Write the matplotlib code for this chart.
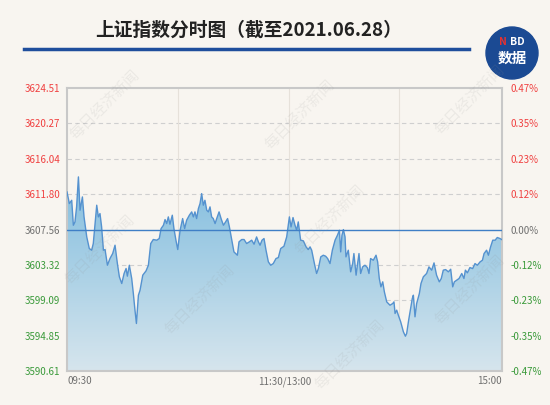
import numpy as np
import matplotlib
matplotlib.use('Agg')
import matplotlib.pyplot as plt
from matplotlib.colors import LinearSegmentedColormap
from matplotlib.patches import Circle

plt.rcParams['font.family'] = ['Noto Sans CJK SC', 'DejaVu Sans']

# minutes since 09:30 (lunch break removed) and index level
minutes = [0, 1.3, 2.6, 3.5, 4.4, 5.3, 6.3, 7.2, 8.5, 9.4, 10.9, 12.3, 13.6, 14.5,
           16.4, 17.3, 18.2, 19.1, 20.1, 21.0, 22.3, 23.7, 25.2, 26.5, 27.8, 28.9,
           30.2, 31.5, 32.6, 33.3, 34.4, 35.7, 36.6, 37.5, 38.3, 39.4, 40.3, 41.8,
           43.6, 44.9, 46.2, 47.6, 49.5, 50.9, 51.9, 53.2, 54.1, 55.0, 55.9, 56.8,
           58.1, 59.0, 60.1, 61.1, 62.4, 63.8, 64.9, 66.0, 67.5, 68.8, 69.7, 70.6,
           71.5, 72.5, 73.4, 74.3, 75.2, 76.1, 77.1, 78.0, 78.9, 79.8, 80.7, 81.7,
           82.6, 83.9, 85.0, 86.3, 87.5, 88.6, 89.6, 90.9, 92.1, 94.0, 94.9, 96.4,
           97.7, 99.1, 100.6, 101.9, 103.2, 104.6, 105.6, 106.5, 107.6, 108.7, 109.8,
           111.1, 112.4, 113.8, 115.3, 116.6, 117.9, 119.7, 121.2, 122.7, 123.6,
           124.7, 125.8, 126.7, 127.6, 128.9, 130.4, 131.9, 133.1, 134.1, 135.0,
           136.5, 137.7, 138.7, 140.0, 141.4, 142.7, 143.8, 145.1, 146.4, 147.9,
           149.2, 150.3, 151.0, 151.7, 152.5, 153.4, 153.9, 155.2, 156.5, 157.6,
           158.3, 159.5, 160.2, 161.1, 162.0, 163.1, 164.4, 165.7, 166.6, 167.5,
           169.0, 170.5, 171.4, 172.3, 173.2, 174.2, 175.1, 176.4, 178.2, 179.7,
           180.4, 181.0, 181.9, 182.8, 184.1, 185.6, 186.7, 187.4, 188.5, 189.6,
           190.5, 191.1, 192.0, 192.9, 194.4, 195.3, 196.6, 198.4, 199.7, 201.2,
           202.5, 203.9, 205.4, 206.5, 207.6, 208.9, 210.4, 211.7, 212.8, 213.7,
           215.0, 216.3, 217.8, 219.0, 219.8, 220.9, 222.3, 223.8, 225.1, 226.4,
           227.9, 229.2, 230.1, 231.5, 232.5, 233.7, 234.9, 236.2, 237.4, 238.9, 239.8]
prices = [3612.06, 3610.67, 3611.06, 3608.07, 3608.47, 3610.27, 3613.86, 3609.87,
          3611.46, 3609.07, 3606.67, 3605.28, 3605.08, 3605.88, 3610.47, 3609.07,
          3609.47, 3607.87, 3605.08, 3605.16, 3603.28, 3604.08, 3604.68, 3605.68,
          3603.48, 3601.89, 3601.09, 3602.29, 3602.89, 3601.97, 3603.28, 3601.69,
          3599.89, 3597.90, 3596.30, 3599.69, 3600.29, 3602.09, 3602.60, 3603.28,
          3605.88, 3606.36, 3606.28, 3606.48, 3607.67, 3608.07, 3608.75, 3608.27,
          3609.07, 3608.19, 3609.27, 3607.67, 3606.28, 3605.16, 3607.47, 3608.87,
          3607.67, 3608.67, 3609.27, 3609.67, 3609.07, 3609.67, 3608.87, 3610.07,
          3610.67, 3611.86, 3610.47, 3611.06, 3609.87, 3609.67, 3610.27, 3609.07,
          3608.87, 3608.27, 3608.87, 3609.67, 3608.87, 3608.07, 3608.47, 3608.87,
          3607.87, 3606.28, 3604.88, 3604.48, 3606.08, 3606.36, 3606.36, 3605.88,
          3606.08, 3606.28, 3605.80, 3606.67, 3606.08, 3605.68, 3606.28, 3606.48,
          3605.08, 3603.68, 3603.28, 3603.48, 3604.08, 3604.20, 3605.28, 3605.56,
          3606.67, 3609.07, 3607.87, 3608.99, 3608.07, 3607.47, 3608.47, 3606.28,
          3606.20, 3605.48, 3605.16, 3605.48, 3605.08, 3603.48, 3602.29, 3602.89,
          3604.28, 3604.48, 3604.36, 3604.08, 3603.48, 3605.08, 3606.28, 3606.87,
          3607.47, 3604.88, 3606.87, 3607.55, 3606.67, 3604.28, 3605.08, 3602.49,
          3603.48, 3604.68, 3602.09, 3603.28, 3604.68, 3602.29, 3603.08, 3603.28,
          3603.00, 3602.29, 3604.08, 3603.88, 3604.48, 3603.68, 3601.69, 3600.69,
          3601.29, 3600.09, 3598.89, 3598.49, 3598.69, 3598.89, 3597.50, 3597.90,
          3597.30, 3596.50, 3595.30, 3594.78, 3595.10, 3596.70, 3598.10, 3599.29,
          3599.69, 3597.10, 3598.69, 3599.89, 3601.09, 3601.89, 3602.29, 3603.08,
          3602.69, 3603.56, 3602.09, 3601.29, 3601.69, 3602.69, 3602.76, 3602.49,
          3602.80, 3600.69, 3601.29, 3601.49, 3601.69, 3602.29, 3601.69, 3602.69,
          3602.37, 3603.00, 3602.88, 3603.48, 3603.28, 3603.68, 3603.88, 3604.68,
          3605.08, 3604.48, 3605.48, 3606.28, 3606.28, 3606.60, 3606.48, 3606.36]

prev_close = 3607.56
price_ticks = [3590.61, 3594.85, 3599.09, 3603.32, 3607.56, 3611.80, 3616.04, 3620.27, 3624.51]
pct_labels = ['-0.47%', '-0.35%', '-0.23%', '-0.12%', '0.00%', '0.12%', '0.23%', '0.35%', '0.47%']
time_labels = ['09:30', '11:30/13:00', '15:00']

bg = '#f8f5f0'
red = '#f04040'
green = '#3a9a3a'
grey = '#707070'

fig = plt.figure(figsize=(5.5, 4.05), dpi=100, facecolor=bg)
ax = fig.add_axes([67 / 550, 1 - 371 / 405, 435 / 550, 283 / 405])
ax.set_facecolor(bg)
ax.set_xlim(0, 240)
ax.set_ylim(price_ticks[0], price_ticks[-1])

# grid
for yv in price_ticks[1:-1]:
    if yv != prev_close:
        ax.axhline(yv, color='#cfcfcf', lw=0.8, ls=(0, (4, 3)), zorder=0)
for xv in [61.2, 122.5, 183.2]:
    ax.axvline(xv, color='#e6e1da', lw=0.8, zorder=0)

# gradient area
poly = ax.fill_between(minutes, prices, price_ticks[0], color='none', lw=0)
cmap = LinearSegmentedColormap.from_list('area', ['#84bedf', '#abd1e6', '#d6e5ed'])
grad = np.linspace(0, 1, 256).reshape(-1, 1)
im = ax.imshow(grad, extent=[0, 240, price_ticks[0], max(prices)], origin='upper',
               aspect='auto', cmap=cmap, zorder=1)
im.set_clip_path(poly.get_paths()[0], ax.transData)
ax.plot(minutes, prices, color='#5592cf', lw=1.0, zorder=3, solid_joinstyle='round')
ax.axhline(prev_close, color='#3f7fc6', lw=1.0, zorder=4)

for s in ax.spines.values():
    s.set_color('#c8c8c8')
    s.set_linewidth(1.5)

# left axis labels
ax.set_yticks(price_ticks)
ax.set_yticklabels(['%.2f' % v for v in price_ticks])
ax.tick_params(axis='y', length=0, pad=5, labelsize=7)
for lbl, v in zip(ax.get_yticklabels(), price_ticks):
    lbl.set_color(red if v > prev_close else (green if v < prev_close else grey))

ax2 = ax.twinx()
ax2.set_ylim(ax.get_ylim())
ax2.set_yticks(price_ticks)
ax2.set_yticklabels(pct_labels)
ax2.tick_params(axis='y', length=0, pad=6, labelsize=7)
for lbl, v in zip(ax2.get_yticklabels(), price_ticks):
    lbl.set_color(red if v > prev_close else (green if v < prev_close else grey))
for s in ax2.spines.values():
    s.set_visible(False)

ax.set_xticks([])
ax.text(0, -0.018, time_labels[0], transform=ax.transAxes, ha='left', va='top',
        fontsize=7, color=grey)
ax.text(0.5, -0.018, time_labels[1], transform=ax.transAxes, ha='center', va='top',
        fontsize=7, color=grey)
ax.text(1, -0.018, time_labels[2], transform=ax.transAxes, ha='right', va='top',
        fontsize=7, color=grey)

# title and header line
fig.text(95 / 550, 1 - 30 / 405, '上证指数分时图（截至2021.06.28）', fontsize=13.5,
         fontweight='bold', color='#222222', ha='left', va='center')
fig.add_artist(plt.Line2D([24 / 550, 469 / 550], [1 - 49 / 405, 1 - 49 / 405],
                          color='#1f4e9c', lw=2.5))

# logo
logo = Circle((512, 405 - 53), 26, transform=None, color='#1b4a93', zorder=5)
fig.patches.append(logo)
fig.text(503 / 550, 1 - 42 / 405, 'N', color='#e8312f', fontsize=7.5, fontweight='bold',
         ha='center', va='center', zorder=6)
fig.text(517 / 550, 1 - 42 / 405, 'BD', color='white', fontsize=7.5, fontweight='bold',
         ha='center', va='center', zorder=6)
fig.text(512 / 550, 1 - 58 / 405, '数据', color='white', fontsize=10.5, fontweight='bold',
         ha='center', va='center', zorder=6)

# watermarks
for wx, wy in [(105, 105), (300, 115), (470, 100), (200, 300), (470, 290), (330, 220),
               (100, 250), (350, 355)]:
    fig.text(wx / 550, 1 - wy / 405, '每日经济新闻', rotation=45, fontsize=11,
             color='#909090', alpha=0.12, ha='center', va='center', zorder=10)

fig.savefig('out.png', dpi=100, facecolor=bg)
